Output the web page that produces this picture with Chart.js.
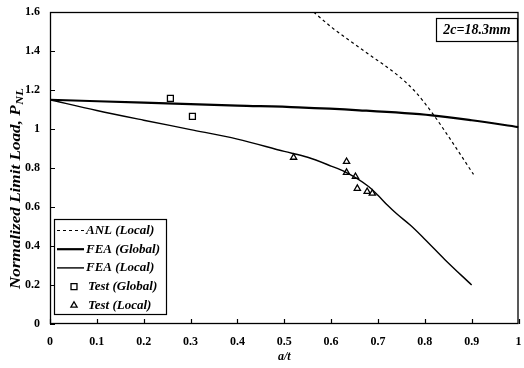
<!DOCTYPE html>
<html><head><meta charset="utf-8">
<script src="https://cdn.jsdelivr.net/npm/chart.js@4/dist/chart.umd.min.js"></script>
<style>html,body{margin:0;padding:0;background:#fff}#wrap{width:524px;height:368px}</style>
</head><body><div id="wrap"><canvas id="c"></canvas></div>
<script>
// ---- data ----
const anlLocalX  = [0.553, 0.602, 0.674, 0.745, 0.780, 0.815, 0.851, 0.904];
const anlLocalY  = [1.62, 1.52, 1.394, 1.27, 1.19, 1.085, 0.96, 0.767];
const feaGlobalX = [0, 0.2, 0.4, 0.53, 0.66, 0.815, 0.9, 1.0];
const feaGlobalY = [1.15, 1.135, 1.12, 1.111, 1.096, 1.07, 1.045, 1.01];
const feaLocalX  = [0, 0.1, 0.2, 0.3, 0.4, 0.5, 0.55, 0.6, 0.63, 0.68, 0.70, 0.72, 0.74, 0.77, 0.80, 0.843, 0.9];
const feaLocalY  = [1.15, 1.095, 1.045, 0.997, 0.948, 0.885, 0.855, 0.81, 0.78, 0.705, 0.66, 0.61, 0.565, 0.505, 0.435, 0.33, 0.2];
const testGlobalX = [0.257, 0.304];
const testGlobalY = [1.157, 1.065];
const testLocalX  = [0.52, 0.633, 0.633, 0.652, 0.656, 0.677, 0.688];
const testLocalY  = [0.854, 0.833, 0.777, 0.756, 0.695, 0.679, 0.670];
const seriesNames = ['ANL (Local)', 'FEA (Global)', 'FEA (Local)', 'Test (Global)', 'Test (Local)'];
const xTickValues = [0, 0.1, 0.2, 0.3, 0.4, 0.5, 0.6, 0.7, 0.8, 0.9, 1];
const yTickValues = [0, 0.2, 0.4, 0.6, 0.8, 1, 1.2, 1.4, 1.6];
const xTitle = 'a/t';
const yTitleMain = 'Normalized Limit Load, P';
const yTitleSub = 'NL';
const noteText = '2c=18.3mm';

const pts = (xs, ys) => xs.map((x, i) => ({x: x, y: ys[i]}));
const SERIF = '"Liberation Serif", "DejaVu Serif", serif';

const datasets = [
  {label: seriesNames[0], data: pts(anlLocalX, anlLocalY), borderColor: '#000', borderWidth: 1.2, borderDash: [3, 3], pointRadius: 0, cubicInterpolationMode: 'monotone', fill: false},
  {label: seriesNames[1], data: pts(feaGlobalX, feaGlobalY), borderColor: '#000', borderWidth: 2.2, pointRadius: 0, cubicInterpolationMode: 'monotone', fill: false},
  {label: seriesNames[2], data: pts(feaLocalX, feaLocalY), borderColor: '#000', borderWidth: 1.4, pointRadius: 0, cubicInterpolationMode: 'monotone', fill: false},
  {label: seriesNames[3], data: pts(testGlobalX, testGlobalY), showLine: false, pointStyle: 'rect', pointRadius: 4.2, pointBorderWidth: 1.3, pointBorderColor: '#000', pointBackgroundColor: '#fff', borderColor: '#000'},
  {label: seriesNames[4], data: pts(testLocalX, testLocalY), showLine: false, pointStyle: 'triangle', pointRadius: 3.6, pointBorderWidth: 1.3, pointBorderColor: '#000', pointBackgroundColor: '#fff', borderColor: '#000'}
];

const decor = {
  id: 'decor',
  afterDraw(chart) {
    const ctx = chart.ctx, a = chart.chartArea;
    const xs = chart.scales.x, ys = chart.scales.y;
    ctx.save();
    ctx.strokeStyle = '#000';
    ctx.lineWidth = 1.3;
    ctx.strokeRect(a.left + 0.5, a.top + 0.5, a.right - a.left - 1, a.bottom - a.top - 1);
    ctx.lineWidth = 1.2;
    ctx.beginPath();
    xTickValues.forEach(v => { const p = Math.round(xs.getPixelForValue(v)) + 0.5; ctx.moveTo(p, a.bottom); ctx.lineTo(p, a.bottom - 5); });
    yTickValues.forEach(v => { const p = Math.round(ys.getPixelForValue(v)) + 0.5; ctx.moveTo(a.left, p); ctx.lineTo(a.left + 5, p); });
    ctx.stroke();

    // x title
    ctx.fillStyle = '#000';
    ctx.font = 'italic bold 12px ' + SERIF;
    ctx.textAlign = 'center'; ctx.textBaseline = 'middle';
    ctx.fillText(xTitle, (a.left + a.right) / 2, 357);

    // y title (rotated) with subscript
    ctx.save();
    ctx.translate(15, 189);
    ctx.rotate(-Math.PI / 2);
    ctx.font = 'italic bold 14px ' + SERIF;
    const w1 = ctx.measureText(yTitleMain).width;
    ctx.font = 'italic bold 10px ' + SERIF;
    const w2 = ctx.measureText(yTitleSub).width;
    const total = w1 + w2;
    const sc = 200 / total;
    ctx.scale(sc, 1);
    ctx.textAlign = 'left'; ctx.textBaseline = 'alphabetic';
    ctx.font = 'italic bold 14px ' + SERIF;
    ctx.fillText(yTitleMain, -total / 2, 5);
    ctx.font = 'italic bold 10px ' + SERIF;
    ctx.fillText(yTitleSub, -total / 2 + w1 + 0.5, 8);
    ctx.restore();

    // note box
    ctx.lineWidth = 1.2;
    ctx.strokeRect(436.5, 18.5, 81, 23);
    ctx.font = 'italic bold 14px ' + SERIF;
    ctx.textAlign = 'center'; ctx.textBaseline = 'middle';
    ctx.fillText(noteText, 477, 30.5);

    // legend box
    const lx = 54, ly = 219, lw = 112, lh = 95;
    ctx.fillStyle = '#fff';
    ctx.fillRect(lx, ly, lw, lh);
    ctx.strokeRect(lx + 0.5, ly + 0.5, lw, lh);
    ctx.fillStyle = '#000';
    ctx.font = 'italic bold 13px ' + SERIF;
    ctx.textAlign = 'left'; ctx.textBaseline = 'middle';
    chart.data.datasets.forEach((ds, i) => {
      const cy = ly + 11.5 + i * 18.7;
      ctx.save();
      if (ds.showLine === false) {
        ctx.fillStyle = '#fff'; ctx.strokeStyle = '#000'; ctx.lineWidth = ds.pointBorderWidth;
        Chart.helpers.drawPoint(ctx, {pointStyle: ds.pointStyle, radius: ds.pointRadius, borderWidth: ds.pointBorderWidth}, 74, cy);
      } else {
        ctx.strokeStyle = '#000'; ctx.lineWidth = ds.borderWidth;
        ctx.setLineDash(ds.borderDash || []);
        ctx.beginPath(); ctx.moveTo(57, cy); ctx.lineTo(84, cy); ctx.stroke();
      }
      ctx.restore();
      ctx.fillStyle = '#000';
      ctx.fillText(ds.label, ds.showLine === false ? 88 : 86, cy);
    });
    ctx.restore();
  }
};

new Chart(document.getElementById('c'), {
  type: 'line',
  data: {datasets: datasets},
  options: {
    responsive: true, maintainAspectRatio: false, animation: false,
    layout: {padding: {top: 12, right: 3, left: 0, bottom: 0}},
    plugins: {legend: {display: false}, tooltip: {enabled: false}},
    scales: {
      x: {type: 'linear', min: 0, max: 1,
        afterFit: s => { s.height = 44; s.paddingLeft = 0; s.paddingRight = 0; },
        afterBuildTicks: s => { s.ticks = xTickValues.map(v => ({value: v})); },
        grid: {display: false, drawTicks: false}, border: {display: false},
        ticks: {padding: 11, color: '#000', font: {family: SERIF, size: 12, weight: 'bold'}, maxRotation: 0, autoSkip: false,
          callback: v => String(v)}},
      y: {type: 'linear', min: 0, max: 1.6,
        afterFit: s => { s.width = 50; s.paddingTop = 0; s.paddingBottom = 0; },
        afterBuildTicks: s => { s.ticks = yTickValues.map(v => ({value: v})); },
        grid: {display: false, drawTicks: false}, border: {display: false},
        ticks: {padding: 10, color: '#000', font: {family: SERIF, size: 12, weight: 'bold'}, autoSkip: false,
          callback: v => String(v)}}
    }
  },
  plugins: [decor]
});
</script>
</body></html>
